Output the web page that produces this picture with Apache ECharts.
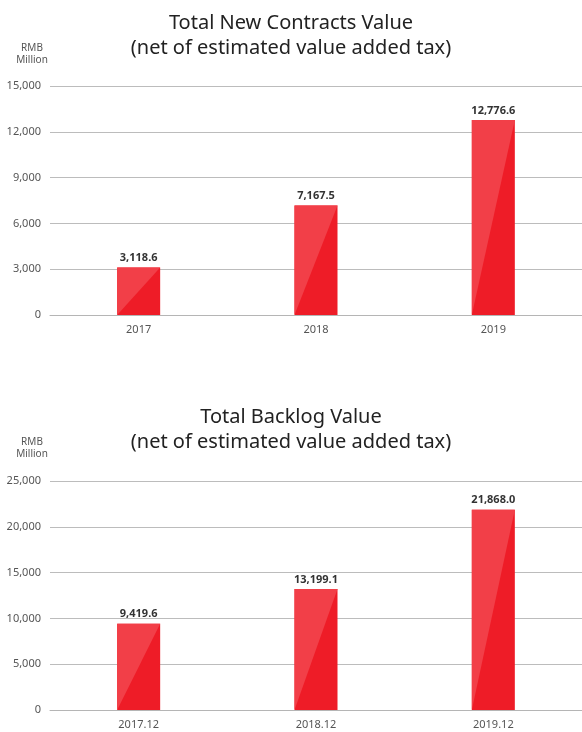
<!DOCTYPE html>
<html>
<head>
<meta charset="utf-8">
<script src="https://cdn.jsdelivr.net/npm/echarts@6/dist/echarts.min.js"></script>
<style>
  html, body { margin: 0; padding: 0; background: #fff; }
  #main { width: 582px; height: 732px; }
</style>
</head>
<body>
<div id="main"></div>
<script>
// new contracts (RMB million)
let contractYears = ['2017', '2018', '2019'];
let contractValues = [3118.6, 7167.5, 12776.6];
// backlog (RMB million)
let backlogYears = ['2017.12', '2018.12', '2019.12'];
let backlogValues = [9419.6, 13199.1, 21868.0];

let darkRed = '#ee1c27';
let lightRed = '#f23f48';
let font = 'Noto Sans';
let barW = 43;

function fmt(v) {
    return v.toLocaleString('en-US', {minimumFractionDigits: 1, maximumFractionDigits: 1});
}

// upper-left lighter triangle over the bar
function triangle(params, api) {
    let top = api.coord([api.value(0), api.value(1)]);
    let bottom = api.coord([api.value(0), 0]);
    let l = top[0] - barW / 2, r = top[0] + barW / 2;
    return {
        type: 'polygon',
        shape: { points: [[l, bottom[1]], [l, top[1]], [r, top[1]]] },
        style: { fill: lightRed }
    };
}

function xAxisOf(idx, cats) {
    return {
        type: 'category', gridIndex: idx, data: cats,
        axisLine: { show: true, lineStyle: { color: '#b5b5b5', width: 1 } },
        axisTick: { show: false },
        axisLabel: { color: '#555', fontSize: 11, fontFamily: font, margin: 9 }
    };
}
function yAxisOf(idx, max, step) {
    return {
        type: 'value', gridIndex: idx, min: 0, max: max, interval: step,
        axisLine: { show: false },
        axisTick: { show: false },
        splitLine: { lineStyle: { color: '#bcbcbc', width: 1 } },
        axisLabel: {
            color: '#555', fontSize: 11, fontFamily: font, margin: 9,
            formatter: (v) => v.toLocaleString('en-US')
        }
    };
}
function barOf(idx, vals) {
    return {
        type: 'bar', xAxisIndex: idx, yAxisIndex: idx, barWidth: barW,
        itemStyle: { color: darkRed },
        label: {
            show: true, position: 'top', distance: 4,
            color: '#333', fontSize: 11, fontWeight: 'bold', fontFamily: font,
            formatter: (p) => fmt(p.value)
        },
        data: vals, z: 2
    };
}
function triOf(idx, vals) {
    return {
        type: 'custom', xAxisIndex: idx, yAxisIndex: idx,
        renderItem: triangle, data: vals.map((v, i) => [i, v]), z: 3, silent: true
    };
}
function titleOf(text, top) {
    return {
        text: text, left: 'center', top: top,
        textStyle: { color: '#222', fontSize: 20, fontWeight: 'normal', fontFamily: font, lineHeight: 25 }
    };
}
function unitOf(top) {
    return {
        text: 'RMB\nMillion', left: 27, top: top, textAlign: 'center',
        textStyle: { color: '#555', fontSize: 10, fontWeight: 'normal', fontFamily: font, lineHeight: 12 }
    };
}

let chart = echarts.init(document.getElementById('main'));
chart.setOption({
    animation: false,
    backgroundColor: '#fff',
    title: [
        titleOf('Total New Contracts Value\n(net of estimated value added tax)', 6),
        titleOf('Total Backlog Value\n(net of estimated value added tax)', 400),
        unitOf(37),
        unitOf(431)
    ],
    grid: [
        { left: 50, right: -5, top: 86, height: 229 },
        { left: 50, right: -5, top: 481, height: 229 }
    ],
    xAxis: [xAxisOf(0, contractYears), xAxisOf(1, backlogYears)],
    yAxis: [yAxisOf(0, 15000, 3000), yAxisOf(1, 25000, 5000)],
    series: [
        barOf(0, contractValues), triOf(0, contractValues),
        barOf(1, backlogValues), triOf(1, backlogValues)
    ]
});
</script>
</body>
</html>
